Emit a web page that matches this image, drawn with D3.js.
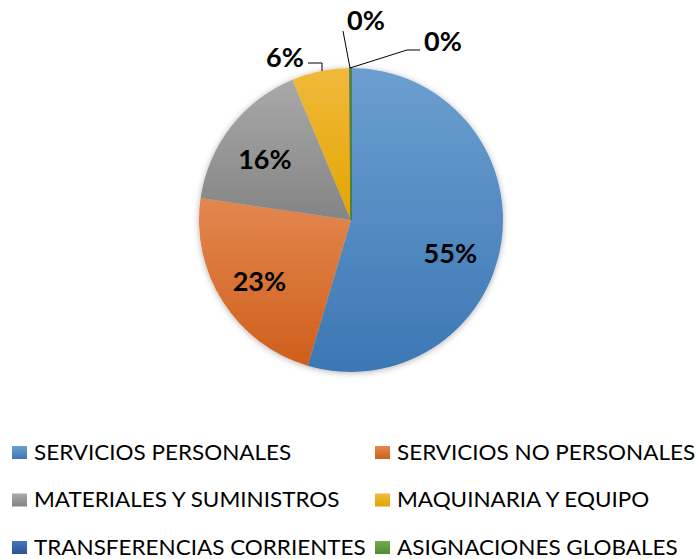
<!DOCTYPE html>
<html lang="es">
<head>
<meta charset="utf-8">
<title>distribucion del gasto</title>
<script src="https://cdnjs.cloudflare.com/ajax/libs/d3/7.8.5/d3.min.js"></script>
<style>
  body { margin: 0; background: #fff; }
  svg { display: block; }
  .pct { font-family: Lato, "Open Sans", sans-serif; font-weight: bold; font-size: 27px; fill: #000; }
  .leg { font-family: Lato, "Open Sans", sans-serif; font-size: 21px; fill: #000; }
  .leader { fill: none; stroke: #000; stroke-width: 1px; }
</style>
</head>
<body>
<script>
// data
var categories = ["SERVICIOS PERSONALES", "SERVICIOS NO PERSONALES", "MATERIALES Y SUMINISTROS",
                  "MAQUINARIA Y EQUIPO", "TRANSFERENCIAS CORRIENTES", "ASIGNACIONES GLOBALES"];
var values = [54.6, 22.7, 16.4, 6.2, 0.08, 0.02];
var colorsTop = ["#6c9fd0", "#e3874f", "#a9a9a9", "#f1b93c", "#4a74c0", "#72ad4c"];
var colorsBottom = ["#3c77b4", "#cf5f1b", "#848484", "#e3a500", "#2b5397", "#4f8a2f"];

var width = 696, height = 559;
var cx = 351, cy = 220, radius = 152;

var svg = d3.select("body").append("svg")
    .attr("width", width)
    .attr("height", height);

var defs = svg.append("defs");

var shadow = defs.append("filter").attr("id", "shadow")
    .attr("x", "-10%").attr("y", "-10%").attr("width", "120%").attr("height", "120%");
shadow.append("feDropShadow")
    .attr("dx", 0).attr("dy", 1).attr("stdDeviation", 3)
    .attr("flood-color", "#000").attr("flood-opacity", 0.3);

categories.forEach(function(c, i) {
  var g = defs.append("linearGradient").attr("id", "grad" + i)
      .attr("x1", 0).attr("y1", 0).attr("x2", 0).attr("y2", 1);
  g.append("stop").attr("offset", "0%").attr("stop-color", colorsTop[i]);
  g.append("stop").attr("offset", "100%").attr("stop-color", colorsBottom[i]);
});

var total = d3.sum(values);
var pie = d3.pie().sort(null).value(function(d) { return d; });
var arcs = pie(values);

var arc = d3.arc().innerRadius(0).outerRadius(radius);
var labelArc = d3.arc().innerRadius(radius * 0.7).outerRadius(radius * 0.7);

var g = svg.append("g").attr("transform", "translate(" + cx + "," + cy + ")");

g.append("g").attr("filter", "url(#shadow)")
  .selectAll("path")
  .data(arcs)
  .enter()
  .append("path")
  .attr("d", arc)
  .attr("fill", function(d, i) { return "url(#grad" + i + ")"; })
  .attr("stroke", function(d, i) { return i >= 4 ? colorsBottom[i] : "none"; })
  .attr("stroke-width", function(d, i) { return i >= 4 ? 1.5 : 0; });

// label placement tweaks (layout, not data)
var labelShift = [[-6, 17], [-2, 3], [-2, 4]];
// outside labels: [label x, label y, leader points relative to center]
var outside = {
  3: { x: -66, y: -164, pts: [[-43, -157], [-29, -157], [-29, -149]] },
  4: { x: 15, y: -201, pts: [[-8, -189], [-1, -152]] },
  5: { x: 92, y: -180, pts: [[-1, -152], [56, -170], [69, -170]] }
};

var fmt = function(v) { return Math.round(v / total * 100) + "%"; };

arcs.forEach(function(d, i) {
  if (outside[i]) {
    var o = outside[i];
    g.append("path")
      .attr("class", "leader")
      .attr("d", d3.line()(o.pts));
    g.append("text")
      .attr("class", "pct")
      .attr("x", o.x).attr("y", o.y)
      .attr("text-anchor", "middle")
      .attr("dominant-baseline", "central")
      .text(fmt(d.value));
  } else {
    var c = labelArc.centroid(d);
    g.append("text")
      .attr("class", "pct")
      .attr("x", c[0] + labelShift[i][0])
      .attr("y", c[1] + labelShift[i][1])
      .attr("text-anchor", "middle")
      .attr("dominant-baseline", "central")
      .text(fmt(d.value));
  }
});

// legend
var legX = d3.scalePoint().domain([0, 1]).range([12, 375]);
var legY = d3.scalePoint().domain([0, 1, 2]).range([452, 547]);

var leg = svg.selectAll("g.legend")
  .data(categories)
  .enter()
  .append("g")
  .attr("class", "legend")
  .attr("transform", function(d, i) {
    return "translate(" + legX(i % 2) + "," + legY(Math.floor(i / 2)) + ")";
  });

leg.append("rect")
  .attr("x", 0).attr("y", -6)
  .attr("width", 15).attr("height", 13)
  .attr("fill", function(d, i) { return "url(#grad" + i + ")"; });

// Lato runs a bit narrower than the original font, stretch it horizontally
leg.append("text")
  .attr("class", "leg")
  .attr("transform", "translate(22,0) scale(1.07,1)")
  .attr("dominant-baseline", "central")
  .text(function(d) { return d; });
</script>
</body>
</html>
